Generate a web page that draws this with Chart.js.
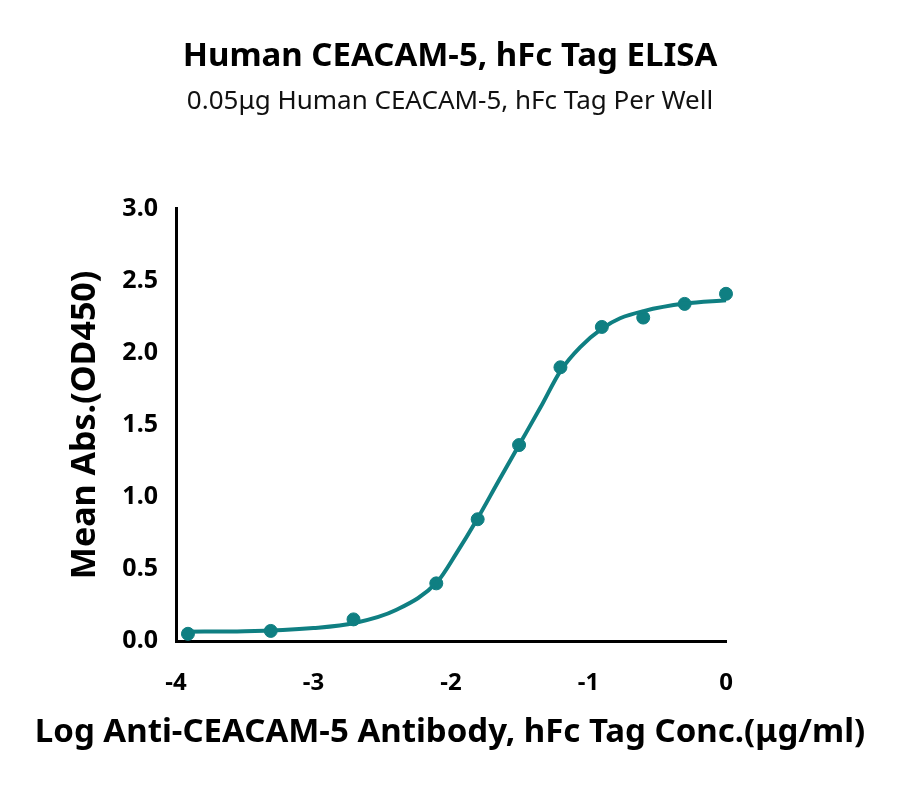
<!DOCTYPE html>
<html>
<head>
<meta charset="utf-8">
<script src="https://cdn.jsdelivr.net/npm/chart.js@4.4.1/dist/chart.umd.min.js"></script>
<style>
html,body{margin:0;padding:0;background:#fff;}
</style>
</head>
<body>
<canvas id="c" width="900" height="785"></canvas>
<script>
const titleText = "Human CEACAM-5, hFc Tag ELISA";
const subtitleText = "0.05\u03bcg Human CEACAM-5, hFc Tag Per Well";
const xTitle = "Log Anti-CEACAM-5 Antibody, hFc Tag Conc.(\u03bcg/ml)";
const yTitle = "Mean Abs.(OD450)";

// measured points
const logConc = [-3.913, -3.311, -2.709, -2.107, -1.806, -1.505, -1.204, -0.903, -0.602, -0.301, 0];
const meanAbs = [0.05, 0.07, 0.15, 0.40, 0.845, 1.36, 1.90, 2.18, 2.245, 2.34, 2.41];

// fitted curve
const fitX = [-3.92, -3.5, -3.0, -2.7, -2.4, -2.1, -1.96, -1.81, -1.66, -1.505, -1.35, -1.2, -1.06, -0.9, -0.77, -0.6, -0.3, 0];
const fitY = [0.065, 0.068, 0.09, 0.125, 0.215, 0.41, 0.61, 0.845, 1.10, 1.36, 1.62, 1.88, 2.04, 2.17, 2.24, 2.29, 2.342, 2.365];

const xTicks = [-4, -3, -2, -1, 0];
const yTicks = [0, 0.5, 1.0, 1.5, 2.0, 2.5, 3.0];

const teal = "#0F7F82";
const FONT = "Noto Sans";

const xTitlePlugin = {
  id: "xTitleWide",
  afterDraw(chart) {
    const ctx = chart.ctx;
    ctx.save();
    ctx.font = "bold 33px '" + FONT + "'";
    ctx.fillStyle = "#000";
    ctx.textAlign = "center";
    ctx.textBaseline = "middle";
    ctx.fillText(xTitle, chart.width / 2, chart.scales.x.bottom - 17);
    ctx.restore();
  }
};

new Chart(document.getElementById("c"), {
  type: "scatter",
  data: {
    datasets: [
      {
        label: "fit",
        data: fitX.map((x, i) => ({x, y: fitY[i]})),
        showLine: true,
        borderColor: teal,
        borderWidth: 4,
        pointRadius: 0,
        cubicInterpolationMode: "monotone",
        clip: false
      },
      {
        label: "data",
        data: logConc.map((x, i) => ({x, y: meanAbs[i]})),
        backgroundColor: teal,
        borderColor: teal,
        pointRadius: 6.5,
        pointHoverRadius: 6.5,
        clip: false
      }
    ]
  },
  plugins: [xTitlePlugin],
  options: {
    responsive: false,
    animation: false,
    events: [],
    layout: { padding: { left: 0, right: 0, top: 37, bottom: 35 } },
    plugins: {
      legend: { display: false },
      tooltip: { enabled: false },
      title: {
        display: true,
        text: titleText,
        color: "#000",
        font: { family: FONT, size: 33, weight: "bold" },
        padding: { top: 0, bottom: 9 }
      },
      subtitle: {
        display: true,
        text: subtitleText,
        color: "#111",
        font: { family: FONT, size: 26, weight: "normal" },
        padding: { top: 0, bottom: 92 }
      }
    },
    scales: {
      x: {
        type: "linear",
        min: -4, max: 0,
        afterBuildTicks: s => { s.ticks = xTicks.map(v => ({value: v})); },
        afterFit: s => { s.height = 109; },
        grid: { display: false, drawOnChartArea: false, tickLength: 12, tickWidth: 3, tickColor: "#000" },
        border: { display: true, color: "#000", width: 3 },
        ticks: { color: "#000", font: { family: FONT, size: 24, weight: "bold" }, padding: 16, maxRotation: 0,
                 callback: v => String(v) },
        title: { display: false }
      },
      y: {
        type: "linear",
        min: 0, max: 3,
        afterBuildTicks: s => { s.ticks = yTicks.map(v => ({value: v})); },
        afterFit: s => { s.width = 176; },
        grid: { display: false, drawOnChartArea: false, tickLength: 12, tickWidth: 3, tickColor: "#000" },
        border: { display: true, color: "#000", width: 3 },
        ticks: { color: "#000", font: { family: FONT, size: 25, weight: "bold" }, padding: 6,
                 callback: v => Number(v).toFixed(1) },
        title: { display: true, text: yTitle, color: "#000", font: { family: FONT, size: 34, weight: "bold" }, padding: { top: 65, bottom: 0 } }
      },
      yr: {
        type: "linear",
        position: "right",
        display: true,
        min: 0, max: 3,
        afterFit: s => { s.width = 174; },
        grid: { display: false, drawOnChartArea: false, drawTicks: false },
        border: { display: false },
        ticks: { display: false }
      }
    }
  }
});
</script>
</body>
</html>
